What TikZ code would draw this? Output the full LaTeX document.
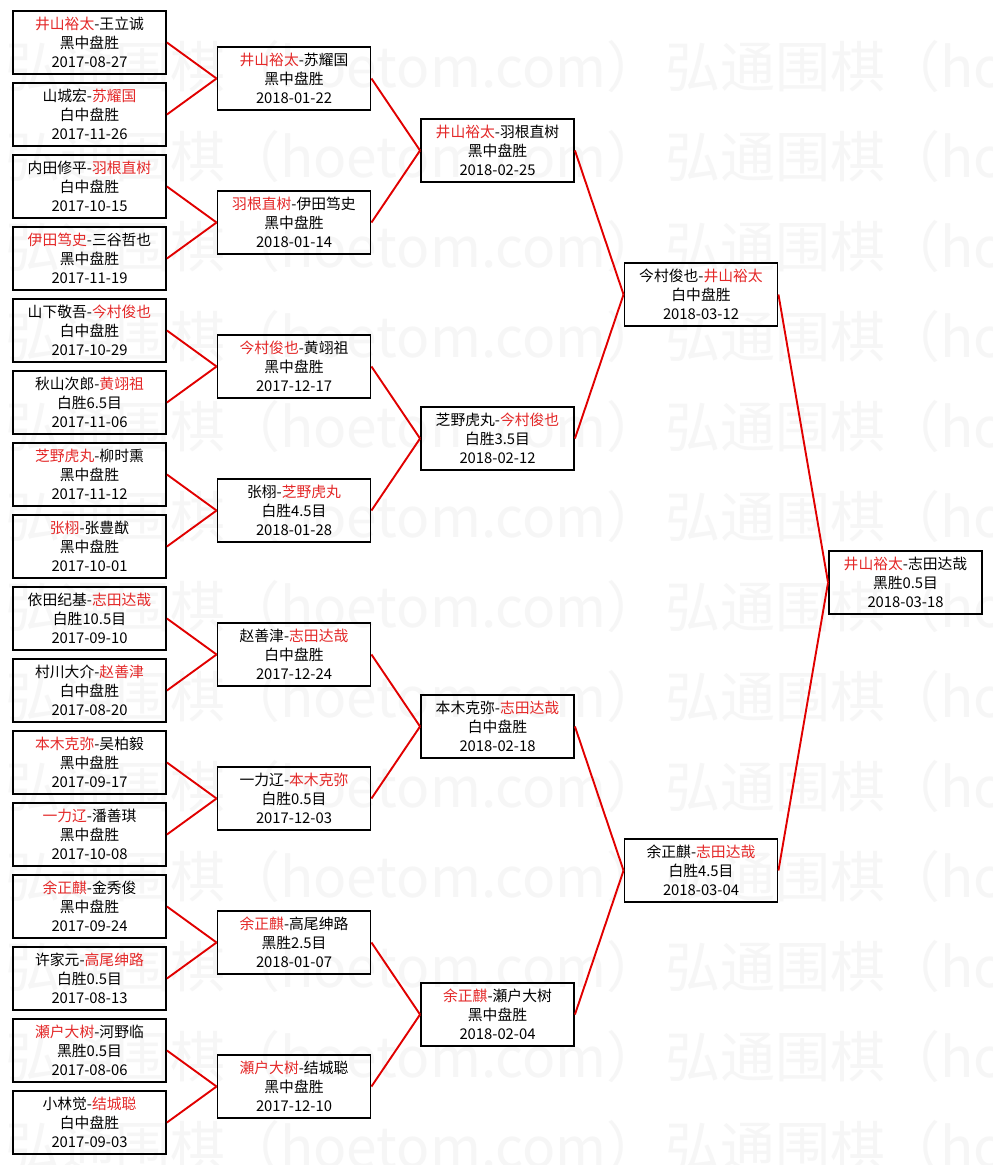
\documentclass[tikz,border=0pt]{standalone}
\usepackage{fontspec}
\newfontfamily\cjk{Noto Sans CJK SC}
\definecolor{winred}{RGB}{228,40,40}
\definecolor{linkred}{RGB}{225,0,0}
\definecolor{markgray}{RGB}{246,246,246}
\newcommand{\winner}[1]{\textcolor{winred}{#1}}

\begin{document}
\begin{tikzpicture}[x=1pt,y=-1pt,
    match/.style={draw, line width=1.9pt, minimum width=153pt, minimum height=63pt,
      inner sep=0pt, align=center, font=\cjk\fontsize{14.8}{19}\selectfont},
    link/.style={draw=linkred, line width=1.9pt},
    wmark/.style={anchor=west, text=markgray, inner sep=0pt, font=\cjk\fontsize{55}{55}\selectfont}]
      \useasboundingbox (0,0) rectangle (993,1165);
      \fill[white] (0,0) rectangle (993,1165);
      % watermark
      \foreach \r in {0,...,12}
        \foreach \c in {-1,0,1}
          \node[wmark] (wm-\r-\c) at (5+660*\c,67+90*\r) {弘通围棋（hoetom.com）};
      % first round
      \node[match] (a1) at (89.5,42.5) {\winner{井山裕太}-王立诚\\黑中盘胜\\2017-08-27};
      \node[match] (a2) at (89.5,114.5) {山城宏-\winner{苏耀国}\\白中盘胜\\2017-11-26};
      \node[match] (a3) at (89.5,186.5) {内田修平-\winner{羽根直树}\\白中盘胜\\2017-10-15};
      \node[match] (a4) at (89.5,258.5) {\winner{伊田笃史}-三谷哲也\\黑中盘胜\\2017-11-19};
      \node[match] (a5) at (89.5,330.5) {山下敬吾-\winner{今村俊也}\\白中盘胜\\2017-10-29};
      \node[match] (a6) at (89.5,402.5) {秋山次郎-\winner{黄翊祖}\\白胜6.5目\\2017-11-06};
      \node[match] (a7) at (89.5,474.5) {\winner{芝野虎丸}-柳时熏\\黑中盘胜\\2017-11-12};
      \node[match] (a8) at (89.5,546.5) {\winner{张栩}-张豊猷\\黑中盘胜\\2017-10-01};
      \node[match] (a9) at (89.5,618.5) {依田纪基-\winner{志田达哉}\\白胜10.5目\\2017-09-10};
      \node[match] (a10) at (89.5,690.5) {村川大介-\winner{赵善津}\\白中盘胜\\2017-08-20};
      \node[match] (a11) at (89.5,762.5) {\winner{本木克弥}-吴柏毅\\黑中盘胜\\2017-09-17};
      \node[match] (a12) at (89.5,834.5) {\winner{一力辽}-潘善琪\\黑中盘胜\\2017-10-08};
      \node[match] (a13) at (89.5,906.5) {\winner{余正麒}-金秀俊\\黑中盘胜\\2017-09-24};
      \node[match] (a14) at (89.5,978.5) {许家元-\winner{高尾绅路}\\白胜0.5目\\2017-08-13};
      \node[match] (a15) at (89.5,1050.5) {\winner{瀬户大树}-河野临\\黑胜0.5目\\2017-08-06};
      \node[match] (a16) at (89.5,1122.5) {小林觉-\winner{结城聪}\\白中盘胜\\2017-09-03};
      % second round
      \node[match] (b1) at (294,78.5) {\winner{井山裕太}-苏耀国\\黑中盘胜\\2018-01-22};
      \node[match] (b2) at (294,222.5) {\winner{羽根直树}-伊田笃史\\黑中盘胜\\2018-01-14};
      \node[match] (b3) at (294,366.5) {\winner{今村俊也}-黄翊祖\\黑中盘胜\\2017-12-17};
      \node[match] (b4) at (294,510.5) {张栩-\winner{芝野虎丸}\\白胜4.5目\\2018-01-28};
      \node[match] (b5) at (294,654.5) {赵善津-\winner{志田达哉}\\白中盘胜\\2017-12-24};
      \node[match] (b6) at (294,798.5) {一力辽-\winner{本木克弥}\\白胜0.5目\\2017-12-03};
      \node[match] (b7) at (294,942.5) {\winner{余正麒}-高尾绅路\\黑胜2.5目\\2018-01-07};
      \node[match] (b8) at (294,1086.5) {\winner{瀬户大树}-结城聪\\黑中盘胜\\2017-12-10};
      % quarter finals
      \node[match] (c1) at (497.5,150.5) {\winner{井山裕太}-羽根直树\\黑中盘胜\\2018-02-25};
      \node[match] (c2) at (497.5,438.5) {芝野虎丸-\winner{今村俊也}\\白胜3.5目\\2018-02-12};
      \node[match] (c3) at (497.5,726.5) {本木克弥-\winner{志田达哉}\\白中盘胜\\2018-02-18};
      \node[match] (c4) at (497.5,1014.5) {\winner{余正麒}-瀬户大树\\黑中盘胜\\2018-02-04};
      % semi finals and final
      \node[match] (d1) at (701,294.5) {今村俊也-\winner{井山裕太}\\白中盘胜\\2018-03-12};
      \node[match] (d2) at (701,870.5) {余正麒-\winner{志田达哉}\\白胜4.5目\\2018-03-04};
      \node[match] (e) at (905.5,582.5) {\winner{井山裕太}-志田达哉\\黑胜0.5目\\2018-03-18};
      % links
      \foreach \u/\v in {a1/b1,a2/b1,a3/b2,a4/b2,a5/b3,a6/b3,a7/b4,a8/b4,
                         a9/b5,a10/b5,a11/b6,a12/b6,a13/b7,a14/b7,a15/b8,a16/b8,
                         b1/c1,b2/c1,b3/c2,b4/c2,b5/c3,b6/c3,b7/c4,b8/c4,
                         c1/d1,c2/d1,c3/d2,c4/d2,d1/e,d2/e}
        \draw[link] (\u.east) -- (\v.west);
    \end{tikzpicture}
\end{document}
